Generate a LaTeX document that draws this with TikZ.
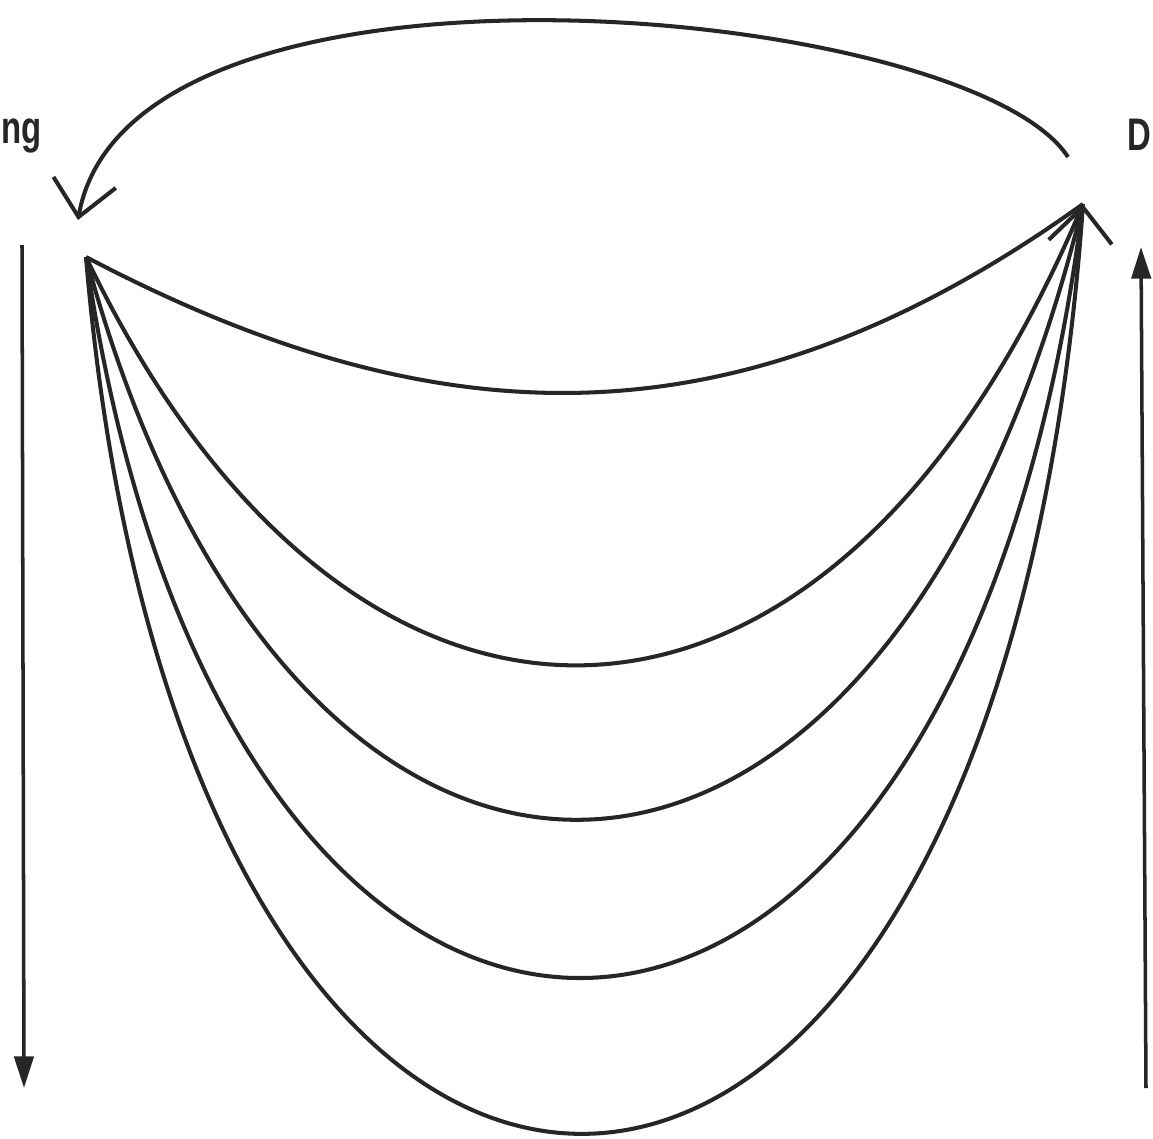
\documentclass[tikz,border=0pt]{standalone}
\usepackage{fontspec}
\newfontfamily\labelfont[FakeStretch=0.72]{Liberation Sans}
\usetikzlibrary{arrows.meta}
\definecolor{inkgray}{RGB}{38,38,38}

\begin{document}
\begin{tikzpicture}[
    x=0.1mm, y=-0.1mm,
    ink/.style={draw=inkgray, line width=1.15pt},
    loopback/.style={ink, -{Straight Barb[length=10pt, width=18pt]}},
    axis/.style={draw=inkgray, line width=1pt, -{Triangle[length=9pt, width=5.5pt]}},
    lbl/.style={font=\labelfont\bfseries\fontsize{13}{16}\selectfont, text=inkgray, inner sep=0pt}
  ]
    \useasboundingbox[fill=white] (0,0) rectangle (1153,1138);
    \coordinate (src) at (86,257);
    \coordinate (dst) at (1083,204);
    \coordinate (arcstart) at (1068,157);
    \coordinate (arcend) at (78,220);
    \coordinate (downtop) at (22,245);
    \coordinate (downbot) at (24,1088);
    \coordinate (upbot) at (1146,1088);
    \coordinate (uptop) at (1141,247);
    \node[lbl, anchor=base west] (ngl) at (1,143) {ng};
    \node[lbl, anchor=base east] (dl) at (1152,150) {D};
    \draw[loopback] (arcstart) .. controls (970,5) and (130,-75) .. (arcend);
    \draw[ink] (src) .. controls (440,443) and (740,450) .. (dst);
    \draw[ink] (src) .. controls (350,810) and (830,810) .. (dst);
    \draw[ink] (src) .. controls (290,1016) and (885,1016) .. (dst);
    \draw[ink] (src) .. controls (225,1227) and (955,1227) .. (dst);
    \draw[loopback] (src) .. controls (185,1434) and (995,1434) .. (dst);
    \draw[axis] (downtop) -- (downbot);
    \draw[axis] (upbot) -- (uptop);
  \end{tikzpicture}
\end{document}
